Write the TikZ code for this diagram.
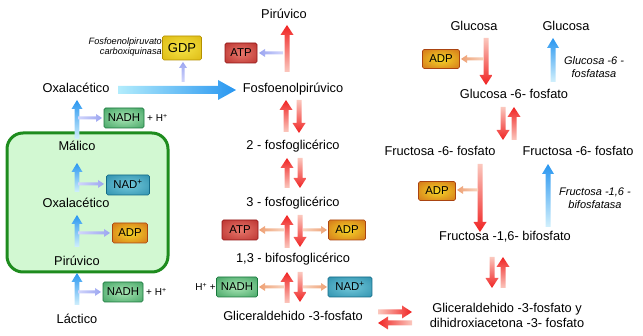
\documentclass[tikz,border=0pt]{standalone}
\usepackage{fontspec}
\setmainfont{Liberation Sans}
\usetikzlibrary{calc}
\definecolor{atpin}{RGB}{232,120,108}
\definecolor{atpout}{RGB}{170,25,25}
\definecolor{adpin}{RGB}{245,215,40}
\definecolor{adpout}{RGB}{200,80,20}
\definecolor{nadhin}{RGB}{170,230,182}
\definecolor{nadhout}{RGB}{30,140,70}
\definecolor{nadin}{RGB}{115,200,218}
\definecolor{nadout}{RGB}{22,125,158}
\definecolor{gdpin}{RGB}{245,228,70}
\definecolor{gdpout}{RGB}{212,170,0}
\definecolor{rtail}{RGB}{251,200,190}
\definecolor{rhead}{RGB}{240,35,35}
\definecolor{btail}{RGB}{210,240,252}
\definecolor{bhead}{RGB}{40,150,240}
\definecolor{bbtail}{RGB}{178,236,252}
\definecolor{otail}{RGB}{248,212,192}
\definecolor{ohead}{RGB}{238,160,115}
\definecolor{ltail}{RGB}{210,214,252}
\definecolor{lhead}{RGB}{155,165,240}
\definecolor{gfill}{RGB}{210,248,210}
\definecolor{gline}{RGB}{30,140,30}
\pgfdeclareradialshading{atpsh}{\pgfpoint{0bp}{0bp}}{color(0bp)=(atpin); color(50bp)=(atpout); color(75bp)=(atpout)}
\pgfdeclareradialshading{adpsh}{\pgfpoint{0bp}{0bp}}{color(0bp)=(adpin); color(50bp)=(adpout); color(75bp)=(adpout)}
\pgfdeclareradialshading{nadhsh}{\pgfpoint{0bp}{0bp}}{color(0bp)=(nadhin); color(50bp)=(nadhout); color(75bp)=(nadhout)}
\pgfdeclareradialshading{nadsh}{\pgfpoint{0bp}{0bp}}{color(0bp)=(nadin); color(50bp)=(nadout); color(75bp)=(nadout)}
\pgfdeclareradialshading{gdpsh}{\pgfpoint{0bp}{0bp}}{color(0bp)=(gdpin); color(50bp)=(gdpout); color(75bp)=(gdpout)}
% #1 style, #2 shaft half width, #3 head half width, #4 head length, #5 from, #6 to
\newcommand\farrow[6]{%
  \shade[#1] let \p1=(#5), \p2=(#6), \n1={veclen(\x2-\x1,\y2-\y1)},
    \n2={(\x2-\x1)/\n1}, \n3={(\y2-\y1)/\n1} in
  ({\x1-(\n3)*#2},{\y1+(\n2)*#2}) --
  ({\x2-(\n2)*#4-(\n3)*#2},{\y2-(\n3)*#4+(\n2)*#2}) --
  ({\x2-(\n2)*#4-(\n3)*#3},{\y2-(\n3)*#4+(\n2)*#3}) --
  (\x2,\y2) --
  ({\x2-(\n2)*#4+(\n3)*#3},{\y2-(\n3)*#4-(\n2)*#3}) --
  ({\x2-(\n2)*#4+(\n3)*#2},{\y2-(\n3)*#4-(\n2)*#2}) --
  ({\x1+(\n3)*#2},{\y1-(\n2)*#2}) -- cycle;}
\tikzset{
  txt/.style={inner sep=0pt, text height=9pt, text depth=2.5pt, font=\fontsize{12.8}{14}\selectfont},
  itxt/.style={inner sep=0pt, align=center, font=\fontsize{11}{13.5}\selectfont\itshape},
  small/.style={inner sep=0pt, font=\fontsize{10}{12}\selectfont},
  bx/.style={rectangle, rounded corners=1.5pt, shade, shading=#1sh, draw=#1out!85!black,
    line width=0.6pt, inner sep=0pt, minimum height=20pt, text height=7.8pt, text depth=0pt,
    font=\fontsize{11.4}{12}\selectfont},
  redup/.style={bottom color=rtail, top color=rhead},
  reddown/.style={top color=rtail, bottom color=rhead},
  redright/.style={left color=rtail, right color=rhead},
  redleft/.style={right color=rtail, left color=rhead},
  blueup/.style={bottom color=btail, top color=bhead},
  bigblue/.style={left color=bbtail, right color=bhead},
  oleft/.style={right color=otail, left color=ohead},
  oright/.style={left color=otail, right color=ohead},
  lright/.style={left color=ltail, right color=lhead},
  lleft/.style={right color=ltail, left color=lhead},
  lup/.style={bottom color=ltail, top color=lhead},
  gbox/.style={draw=gline, fill=gfill, line width=3pt, rounded corners=16pt}
}
\begin{document}
\begin{tikzpicture}[x=1pt,y=-1pt]
\useasboundingbox (0,0) rectangle (643,336);
% mitochondrion box
\node[gbox, minimum width=161pt, minimum height=139pt] (mito) at (87.5,202.5) {};
% ---------- coordinates for arrows
\coordinate (B1s) at (77,139); \coordinate (B1e) at (77,100);
\coordinate (B2s) at (77,192); \coordinate (B2e) at (77,163);
\coordinate (B3s) at (77,247); \coordinate (B3e) at (77,215);
\coordinate (B4s) at (77,305); \coordinate (B4e) at (77,273);
\coordinate (S1s) at (78,118); \coordinate (S1e) at (102,118);
\coordinate (S2s) at (78,184); \coordinate (S2e) at (104,184);
\coordinate (S3s) at (78,233); \coordinate (S3e) at (110,233);
\coordinate (S4s) at (78,292); \coordinate (S4e) at (101,292);
\coordinate (S5s) at (183,82); \coordinate (S5e) at (183,62);
\coordinate (S6s) at (283,53); \coordinate (S6e) at (259,53);
\coordinate (BBs) at (118,90); \coordinate (BBe) at (236,90);
\coordinate (R1s) at (287,72); \coordinate (R1e) at (287,25);
\coordinate (R2s) at (286,132); \coordinate (R2e) at (286,100);
\coordinate (R3s) at (299,100); \coordinate (R3e) at (299,133);
\coordinate (R4s) at (287,188); \coordinate (R4e) at (287,158);
\coordinate (R5s) at (300,158); \coordinate (R5e) at (300,188);
\coordinate (R6s) at (287,248); \coordinate (R6e) at (287,215);
\coordinate (R7s) at (300,215); \coordinate (R7e) at (300,247);
\coordinate (R8s) at (287,303); \coordinate (R8e) at (287,272);
\coordinate (R9s) at (300,272); \coordinate (R9e) at (300,302);
\coordinate (R10s) at (378,312); \coordinate (R10e) at (412,312);
\coordinate (R11s) at (412,323); \coordinate (R11e) at (378,323);
\coordinate (O1s) at (284,230); \coordinate (O1e) at (259,230);
\coordinate (O2s) at (303,230); \coordinate (O2e) at (327,230);
\coordinate (O3s) at (284,287); \coordinate (O3e) at (259,287);
\coordinate (O4s) at (303,287); \coordinate (O4e) at (327,287);
\coordinate (R12s) at (486,38); \coordinate (R12e) at (486,85);
\coordinate (O5s) at (484,59); \coordinate (O5e) at (461,59);
\coordinate (BU1s) at (553,82); \coordinate (BU1e) at (553,38);
\coordinate (R13s) at (503,107); \coordinate (R13e) at (503,140);
\coordinate (R14s) at (514,140); \coordinate (R14e) at (514,107);
\coordinate (R15s) at (480,164); \coordinate (R15e) at (480,232);
\coordinate (O6s) at (478,190); \coordinate (O6e) at (457,190);
\coordinate (BU2s) at (548,227); \coordinate (BU2e) at (548,164);
\coordinate (R16s) at (492,257); \coordinate (R16e) at (492,288);
\coordinate (R17s) at (503,288); \coordinate (R17e) at (503,257);
% ---------- arrows
\foreach \a in {B1,B2,B3,B4} {\farrow{blueup}{2.3}{5.5}{9}{\a s}{\a e}}
\foreach \a in {S1,S2,S3,S4} {\farrow{lright}{1.5}{4}{6}{\a s}{\a e}}
\farrow{lup}{1.5}{4}{6}{S5s}{S5e}
\farrow{lleft}{1.5}{4}{6}{S6s}{S6e}
\farrow{bigblue}{4}{10}{18}{BBs}{BBe}
\foreach \a in {R1,R2,R4,R6,R8,R14,R17} {\farrow{redup}{2.5}{6.5}{10}{\a s}{\a e}}
\foreach \a in {R3,R5,R7,R9,R12,R13,R15,R16} {\farrow{reddown}{2.5}{6.5}{10}{\a s}{\a e}}
\farrow{redright}{2.5}{6.5}{10}{R10s}{R10e}
\farrow{redleft}{2.5}{6.5}{10}{R11s}{R11e}
\foreach \a in {O1,O3,O5,O6} {\farrow{oleft}{1.5}{4}{6}{\a s}{\a e}}
\foreach \a in {O2,O4} {\farrow{oright}{1.5}{4}{6}{\a s}{\a e}}
\farrow{blueup}{2.5}{6}{10}{BU1s}{BU1e}
\farrow{blueup}{2.5}{6}{10}{BU2s}{BU2e}
% ---------- left column
\node[txt] (oxa1) at (76,89) {Oxalacético};
\node[txt] (mal) at (77,147) {Málico};
\node[txt] (oxa2) at (76,204) {Oxalacético};
\node[txt] (pir2) at (77,262) {Pirúvico};
\node[txt] (lac) at (77,320) {Láctico};
\node[bx=nadh, minimum width=40pt] (nadh1) at (124,118) {NADH};
\node[small, anchor=west] (h1) at (147,118) {+ H\textsuperscript{+}};
\node[bx=nad, minimum width=43pt] (nad1) at (128,185) {NAD\textsuperscript{+}};
\node[bx=adp, minimum width=35pt] (adp1) at (130,233) {ADP};
\node[bx=nadh, minimum width=40pt] (nadh2) at (123,292) {NADH};
\node[small, anchor=west] (h2) at (146,292) {+ H\textsuperscript{+}};
\node[inner sep=0pt, anchor=east, align=right, font=\fontsize{9.2}{10.5}\selectfont\itshape] (pepck) at (162,47) {Fosfoenolpiruvato\\carboxiquinasa};
\node[bx=gdp, minimum width=39pt, minimum height=24pt, text height=9pt, font=\fontsize{13}{14}\selectfont] (gdp) at (182,48) {GDP};
% ---------- middle column
\node[txt] (pir) at (284,15) {Pirúvico};
\node[bx=atp, minimum width=32pt] (atp1) at (241,53) {ATP};
\node[txt] (pep) at (293,89) {Fosfoenolpirúvico};
\node[txt] (pg2) at (293,146) {2 - fosfoglicérico};
\node[txt] (pg3) at (293,203) {3 - fosfoglicérico};
\node[bx=atp, minimum width=36pt] (atp2) at (240,230) {ATP};
\node[bx=adp, minimum width=37pt] (adp2) at (347,230) {ADP};
\node[txt] (bpg) at (293,259) {1,3 - bifosfoglicérico};
\node[bx=nadh, minimum width=41pt] (nadh3) at (237,287) {NADH};
\node[small, anchor=east] (h3) at (216,287) {H\textsuperscript{+} +};
\node[bx=nad, minimum width=44pt] (nad2) at (350,287) {NAD\textsuperscript{+}};
\node[txt] (g3p) at (293,317) {Gliceraldehido -3-fosfato};
% ---------- right column
\node[txt] (glu1) at (474,27) {Glucosa};
\node[txt] (glu2) at (566,27) {Glucosa};
\node[bx=adp, minimum width=37pt, minimum height=19pt] (adp3) at (441,59) {ADP};
\node[itxt] (g6pase) at (594,67) {Glucosa -6 -\\fosfatasa};
\node[txt] (g6p) at (514,95) {Glucosa -6- fosfato};
\node[txt] (f6p1) at (440,152) {Fructosa -6- fosfato};
\node[txt] (f6p2) at (578,152) {Fructosa -6- fosfato};
\node[bx=adp, minimum width=37pt, minimum height=19pt] (adp4) at (437,191) {ADP};
\node[itxt] (fbpase) at (595,198) {Fructosa -1,6 -\\bifosfatasa};
\node[txt] (f16) at (505,237) {Fructosa -1,6- bifosfato};
\node[txt, align=center, text height=, text depth=, font=\fontsize{12.8}{15}\selectfont] (gdhap) at (507,315) {Gliceraldehido -3-fosfato y\\dihidroxiacetona -3- fosfato};
\end{tikzpicture}
\end{document}
